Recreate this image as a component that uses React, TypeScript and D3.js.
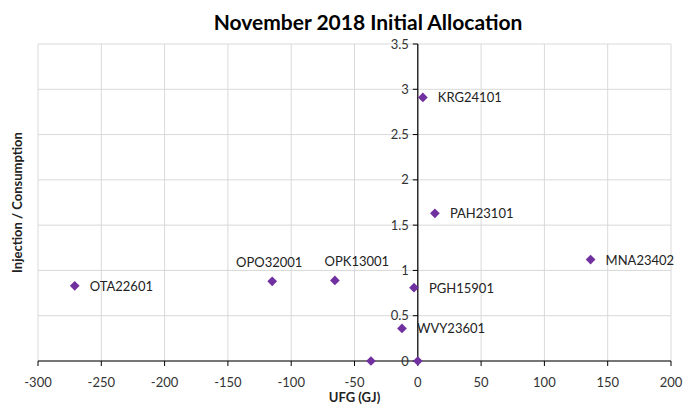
import React from "react";
import * as d3 from "d3";

const names = ["OTA22601", "OPO32001", "OPK13001", "PGH15901", "WVY23601", "", "", "KRG24101", "PAH23101", "MNA23402"];
const ufg = [-271, -115, -65.5, -3, -12.5, -37, 0, 4, 13.5, 136.5];
const ratio = [0.83, 0.88, 0.89, 0.81, 0.36, 0, 0, 2.91, 1.63, 1.12];
const labelPos = ["right", "above", "above", "right", "right", "none", "none", "right", "right", "right"];
const labelShift = [0, -3, 22, 0, 0, 0, 0, 0, 0, 0];
const xTicks = [-300, -250, -200, -150, -100, -50, 0, 50, 100, 150, 200];
const yTicks = [0, 0.5, 1, 1.5, 2, 2.5, 3, 3.5];

const W = 686, H = 410;
const L = 38, R = 671, T = 44, B = 361;
const font = "Lato, 'Open Sans', sans-serif";

export default function App() {
  const x = d3.scaleLinear().domain([-300, 200]).range([L, R]);
  const y = d3.scaleLinear().domain([0, 3.5]).range([B, T]);
  const diamond = d3.symbol().type(d3.symbolDiamond2).size(60)();
  const x0 = x(0), y0 = y(0);
  return (
    <svg width={W} height={H} style={{ position: "absolute", left: 0, top: 0, background: "#fff" }} fontFamily={font}>
      <rect x={0} y={0} width={W} height={H} fill="#fff" />
      {xTicks.map((t) => (
        <line key={"gx" + t} x1={x(t)} x2={x(t)} y1={T} y2={B} stroke="#d9d9d9" strokeWidth={1} />
      ))}
      {yTicks.map((t) => (
        <line key={"gy" + t} x1={L} x2={R} y1={y(t)} y2={y(t)} stroke="#d9d9d9" strokeWidth={1} />
      ))}
      <line x1={L} x2={R} y1={y0} y2={y0} stroke="#000" strokeWidth={1.2} />
      <line x1={x0} x2={x0} y1={T} y2={B} stroke="#000" strokeWidth={1.2} />
      {xTicks.map((t) => (
        <g key={"tx" + t}>
          <line x1={x(t)} x2={x(t)} y1={y0} y2={y0 + 5} stroke="#000" strokeWidth={1} />
          <text x={x(t)} y={y0 + 26} textAnchor="middle" fontSize={13} fill="#333">{t}</text>
        </g>
      ))}
      {yTicks.map((t) => (
        <g key={"ty" + t}>
          <line x1={x0 - 5} x2={x0} y1={y(t)} y2={y(t)} stroke="#000" strokeWidth={1} />
          <text x={x0 - 9} y={y(t)} dy="0.35em" textAnchor="end" fontSize={13} fill="#333">{t}</text>
        </g>
      ))}
      {ufg.map((v, i) => (
        <path key={"p" + i} d={diamond as string} transform={`translate(${x(v)},${y(ratio[i])})`} fill="#7030A0" />
      ))}
      {ufg.map((v, i) => {
        const p = labelPos[i];
        if (p === "none") return null;
        if (p === "above")
          return (
            <text key={"l" + i} x={x(v) + labelShift[i]} y={y(ratio[i]) - 14} textAnchor="middle" fontSize={13} fill="#222">{names[i]}</text>
          );
        return (
          <text key={"l" + i} x={x(v) + 15} y={y(ratio[i]) + 5} fontSize={13} fill="#222">{names[i]}</text>
        );
      })}
      <text x={368} y={30} textAnchor="middle" fontSize={21} fontWeight="bold" fill="#000">November 2018 Initial Allocation</text>
      <text x={(L + R) / 2} y={402} textAnchor="middle" fontSize={13} fontWeight="bold" fill="#222">UFG (GJ)</text>
      <text transform={`translate(22,${(T + B) / 2}) rotate(-90)`} textAnchor="middle" fontSize={13} fontWeight="bold" fill="#222">Injection / Consumption</text>
    </svg>
  );
}
